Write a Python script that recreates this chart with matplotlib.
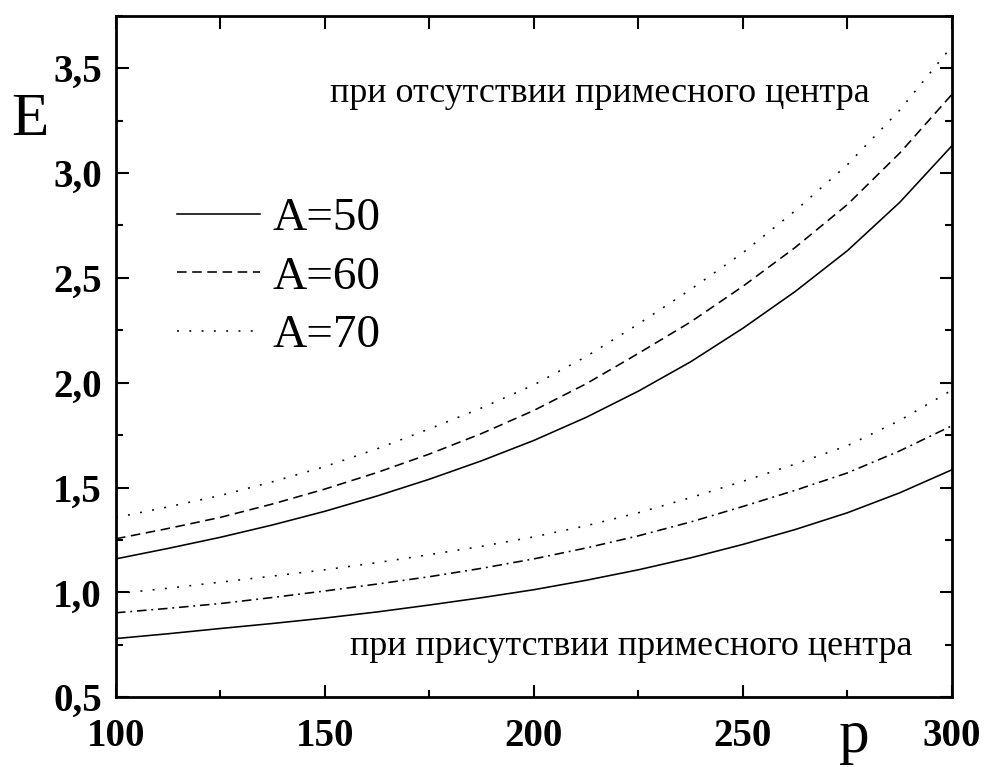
import matplotlib
matplotlib.use("Agg")
import matplotlib.pyplot as plt
from matplotlib.ticker import MultipleLocator, FuncFormatter

# Momentum p grid
p = [100, 112.5, 125, 137.5, 150, 162.5, 175, 187.5, 200,
     212.5, 225, 237.5, 250, 262.5, 275, 287.5, 300]

# Energy without the impurity centre
e_free_a50 = [1.160, 1.210, 1.263, 1.322, 1.387, 1.460, 1.540, 1.628, 1.725,
              1.835, 1.960, 2.100, 2.260, 2.435, 2.630, 2.860, 3.130]
e_free_a60 = [1.256, 1.305, 1.358, 1.422, 1.493, 1.572, 1.660, 1.758, 1.868,
              1.995, 2.140, 2.290, 2.460, 2.645, 2.850, 3.095, 3.375]
e_free_a70 = [1.357, 1.408, 1.462, 1.528, 1.600, 1.685, 1.780, 1.880, 1.990,
              2.125, 2.280, 2.445, 2.620, 2.820, 3.040, 3.300, 3.605]

# Energy with the impurity centre
e_imp_a50 = [0.780, 0.803, 0.828, 0.852, 0.878, 0.907, 0.940, 0.975, 1.013,
             1.058, 1.108, 1.165, 1.229, 1.300, 1.380, 1.475, 1.585]
e_imp_a60 = [0.903, 0.924, 0.947, 0.976, 1.007, 1.040, 1.075, 1.115, 1.160,
             1.212, 1.270, 1.336, 1.410, 1.487, 1.570, 1.675, 1.795]
e_imp_a70 = [0.994, 1.020, 1.049, 1.078, 1.108, 1.142, 1.180, 1.220, 1.265,
             1.318, 1.380, 1.452, 1.530, 1.612, 1.700, 1.820, 1.965]

legend_labels = ["A=50", "A=60", "A=70"]
text_free = "при отсутствии примесного центра"
text_imp = "при присутствии примесного центра"

plt.rcParams["font.family"] = ["Liberation Serif", "DejaVu Serif"]

fig = plt.figure(figsize=(9.86, 7.67), dpi=100)
ax = fig.add_axes([0.1176, 0.0909, 0.8479, 0.8886])

solid = "-"
dashed = (0, (6, 3.5))
dotted = (0, (1.2, 6.5))
dashdot = (0, (6, 3, 1.2, 3))

lw = 1.15
h1, = ax.plot(p, e_free_a50, color="black", lw=lw, linestyle=solid)
h2, = ax.plot(p, e_free_a60, color="black", lw=lw, linestyle=dashed)
h3, = ax.plot(p, e_free_a70, color="black", lw=lw, linestyle=dotted)

ax.plot(p, e_imp_a50, color="black", lw=lw, linestyle=solid)
ax.plot(p, e_imp_a60, color="black", lw=lw, linestyle=dashdot)
ax.plot(p, e_imp_a70, color="black", lw=lw, linestyle=dotted)

ax.set_xlim(100, 300)
ax.set_ylim(0.5, 3.75)

ax.xaxis.set_major_locator(MultipleLocator(50))
ax.xaxis.set_minor_locator(MultipleLocator(25))
ax.yaxis.set_major_locator(MultipleLocator(0.5))
ax.yaxis.set_minor_locator(MultipleLocator(0.25))
ax.yaxis.set_major_formatter(FuncFormatter(lambda v, _: f"{v:.1f}".replace(".", ",")))
ax.xaxis.set_major_formatter(FuncFormatter(lambda v, _: f"{v:.0f}"))

for s in ax.spines.values():
    s.set_linewidth(2.0)

ax.tick_params(which="both", direction="in", top=True, right=True, width=1.5)
ax.tick_params(which="major", length=9)
ax.tick_params(which="minor", length=5)
ax.tick_params(axis="x", which="major", pad=15)
ax.tick_params(axis="y", which="major", pad=10)
for lab in ax.get_xticklabels() + ax.get_yticklabels():
    lab.set_fontsize(28)
    lab.set_fontweight("bold")
# Top minor ticks as long as the major ones
for t in ax.xaxis.get_minor_ticks():
    t.tick2line.set_markersize(9)

ax.text(151.2, 3.34, text_free, fontsize=25.8, ha="left", va="baseline")
ax.text(156.0, 0.70, text_imp, fontsize=25.8, ha="left", va="baseline")

leg = ax.legend([h1, h2, h3], legend_labels, loc="upper left",
                bbox_to_anchor=(0.073, 0.734), frameon=False, fontsize=34,
                handlelength=1.75, handletextpad=0.28, labelspacing=0.33,
                borderpad=0, borderaxespad=0)

fig.text(0.0304, 0.8435, "E", fontsize=44, ha="center", va="center")
fig.text(0.866, 0.0196, "p", fontsize=44, ha="center", va="baseline")

fig.savefig("out.png", dpi=100)
